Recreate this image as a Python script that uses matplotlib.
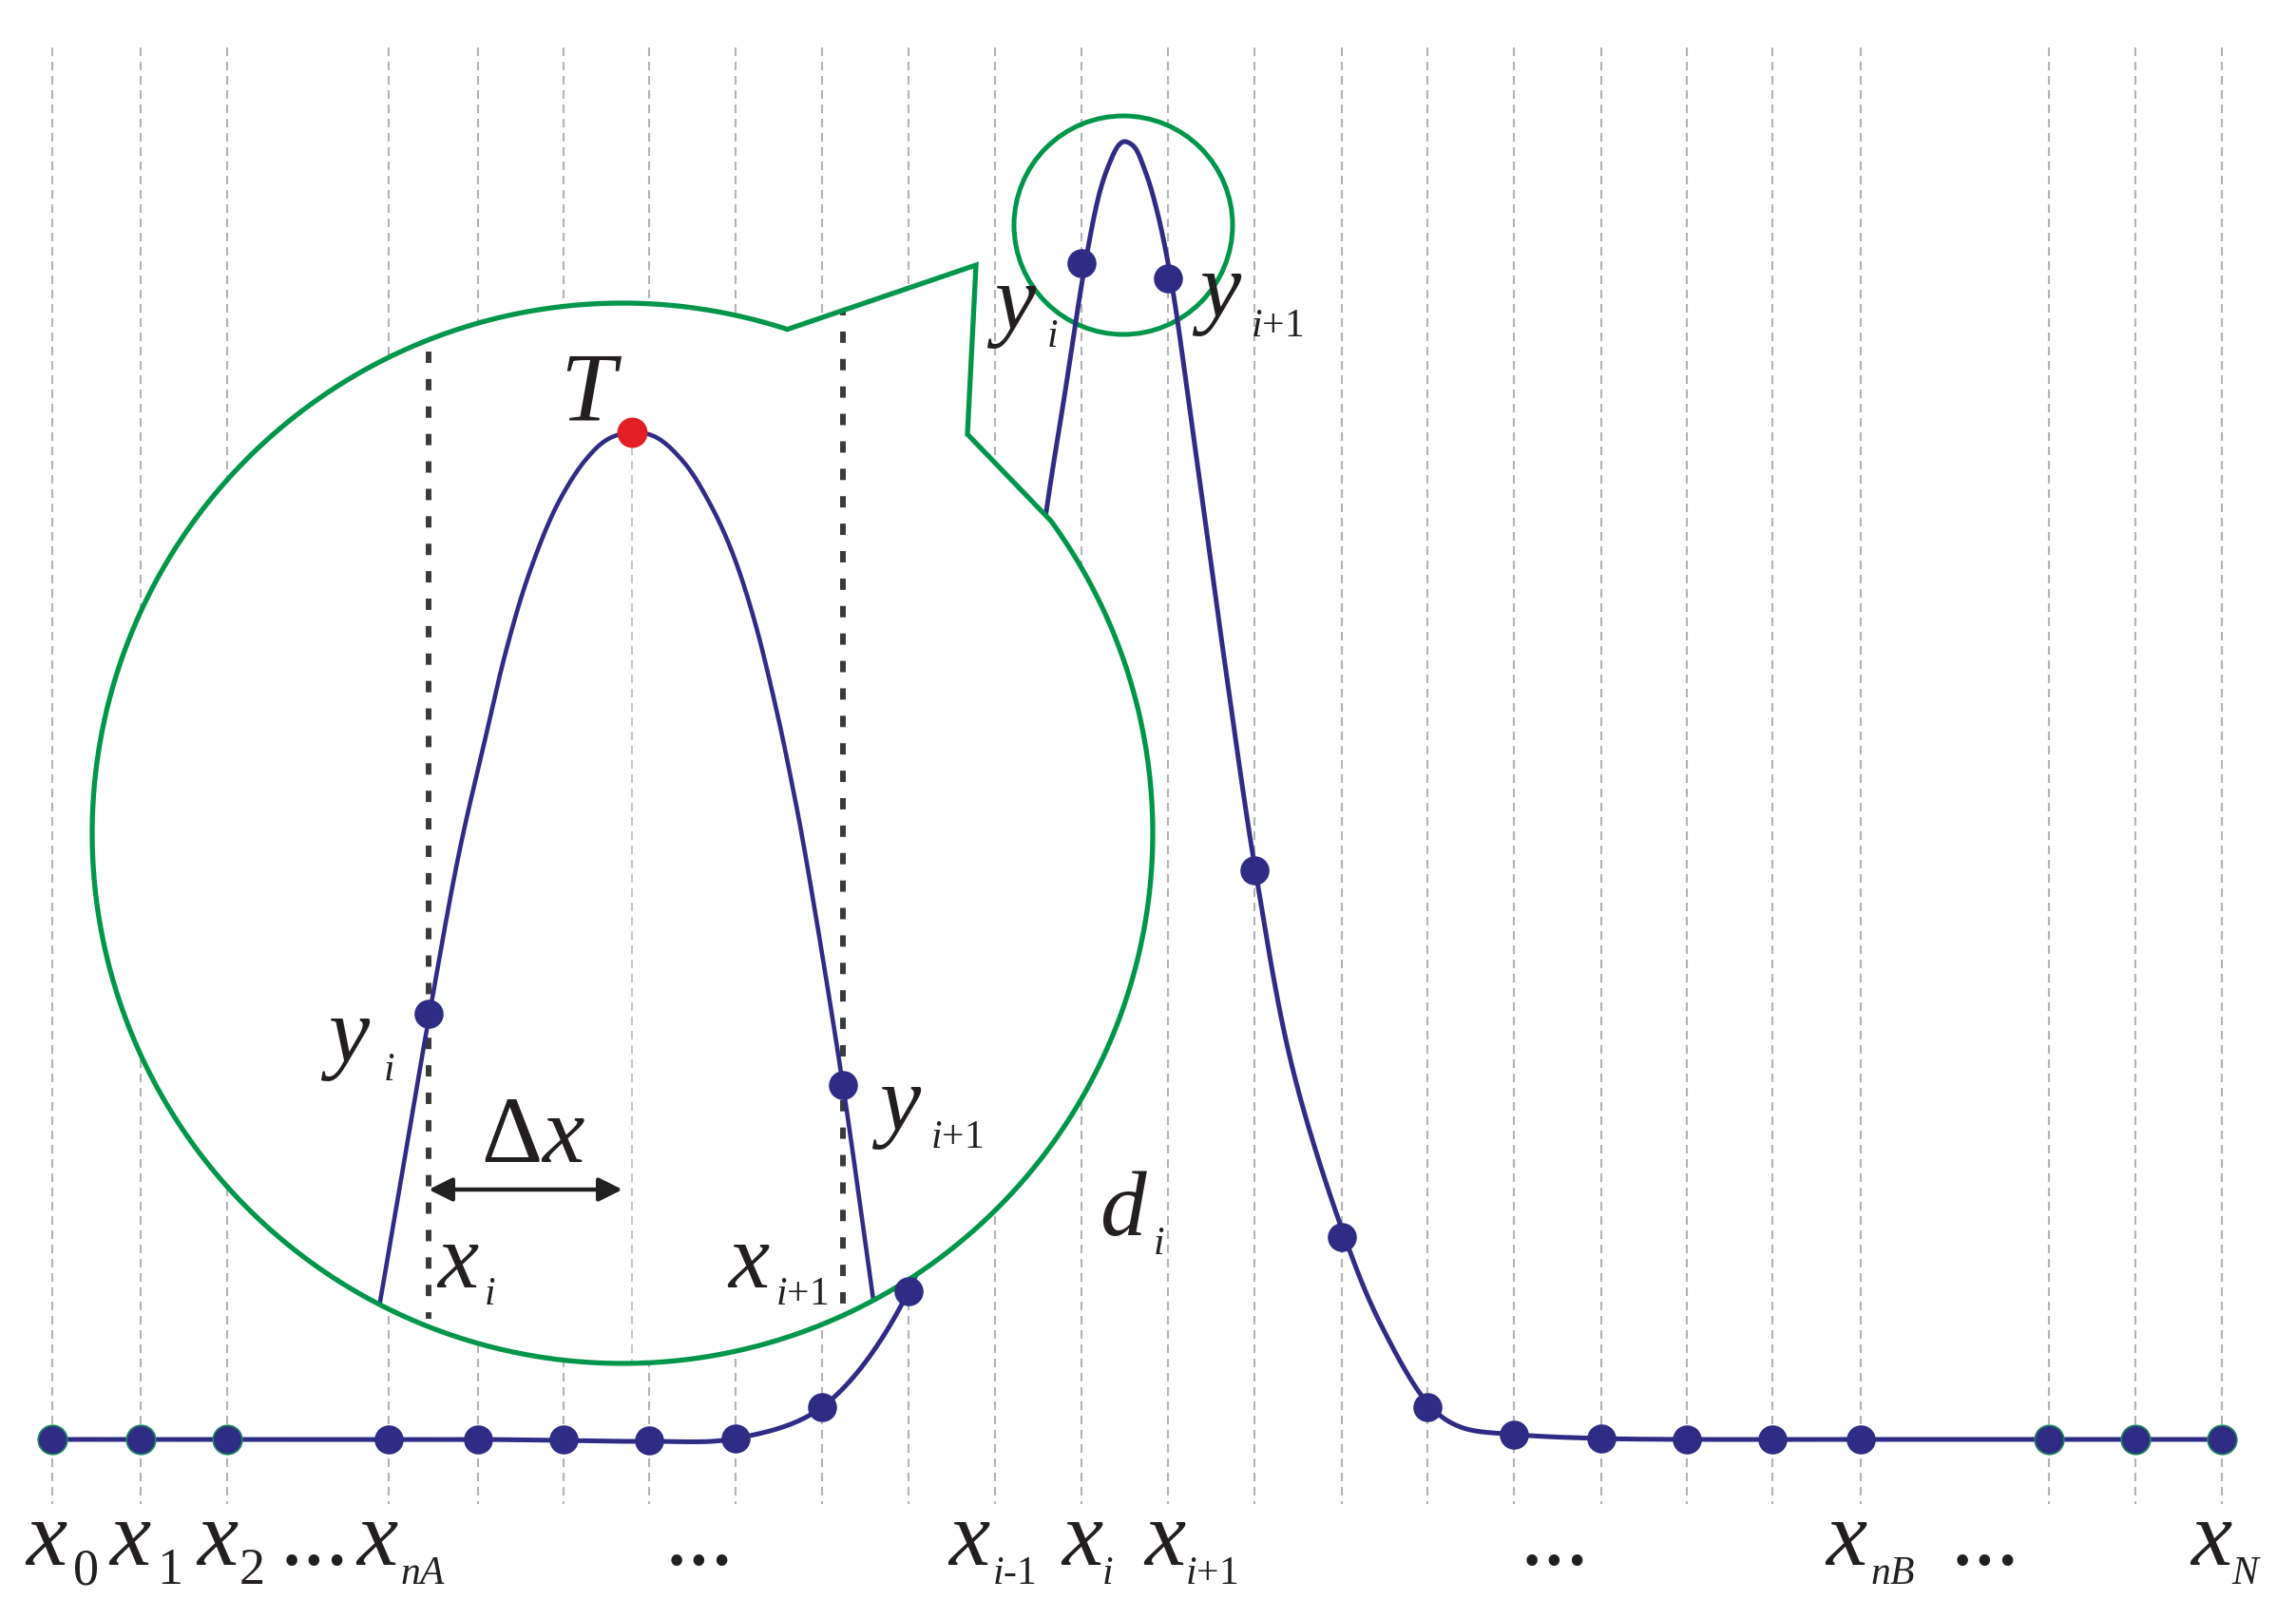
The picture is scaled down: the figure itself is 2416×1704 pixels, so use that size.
""" Sketch of a sampled peak with a magnified bubble around its top. """

import numpy as np
import matplotlib.pyplot as plt
from matplotlib.patches import Circle, Polygon

plt.rcParams["lines.scale_dashes"] = False
plt.rcParams["mathtext.fontset"] = "custom"
plt.rcParams["mathtext.it"] = "Liberation Serif:italic"
plt.rcParams["mathtext.rm"] = "Liberation Serif"

W, H = 2416, 1704

# canvas is measured in pixels of the original drawing (y grows downwards)
NODE_X = [55, 148, 239, 409, 503, 593, 683, 774, 865, 956, 1047, 1138,
          1229, 1320, 1412, 1502, 1593, 1685, 1775, 1865, 1958, 2156, 2247, 2338]
NODE_Y = [1515, 1515, 1515, 1515, 1515, 1515, 1516, 1514, 1481, 1359, None, 277,
          293, 916, 1302, 1481, 1510, 1514, 1515, 1515, 1515, 1515, 1515, 1515]
GREEN_EDGE = [0, 1, 2, 21, 22, 23]

# trace of the main curve
CURVE_X = [55, 148, 239, 409, 503, 593, 683, 774, 865, 956, 1010, 1055, 1100,
           1121, 1142, 1157, 1167, 1177, 1183, 1193, 1205, 1217, 1232,
           1256, 1290, 1321, 1360, 1415, 1453, 1505, 1537, 1597,
           1685, 1775, 1865, 1958, 2156, 2247, 2338]
CURVE_Y = [1515, 1515, 1515, 1515, 1515, 1516, 1517, 1514, 1481, 1359, 1170, 900, 545,
           411, 277, 203, 173, 153, 149, 154, 180, 220, 293,
           460, 706, 916, 1124, 1302, 1394, 1480, 1502, 1510,
           1514, 1515, 1515, 1515, 1515, 1515, 1515]

# trace of the magnified peak inside the bubble
ZOOM_X = [393, 400, 452, 483, 510, 533, 557, 587, 617, 640, 665, 690, 720,
          747, 770, 793, 817, 833, 847, 887, 920, 924]
ZOOM_Y = [1410, 1370, 1067, 898, 780, 683, 603, 530, 483, 462, 455, 460, 487,
          530, 580, 650, 747, 823, 897, 1142, 1375, 1400]
ZOOM_NODES_X = [451, 887]
ZOOM_NODES_Y = [1067, 1142]
PEAK_X, PEAK_Y = 665, 455

# bubble geometry
BUB_C = (655, 877)
BUB_R = 558
TAIL = [(828, 348), (1027, 279), (1018, 457), (1105, 549)]
LOUPE_C = (1182, 237)
LOUPE_R = 115

# labels under the axis: main letter left edge, subscript text, subscript left edge
BOT_MAIN_X = [27, 115, 207, 375, 998, 1117, 1204, 1921, 2305]
BOT_SUB = ["0", "1", "2", "$nA$", "$i$-1", "$i$", "$i$+1", "$nB$", "$N$"]
BOT_SUB_X = [77, 165, 252, 421, 1044, 1159, 1247, 1968, 2348]
BOT_DOTS_X = [295, 700, 1600, 2053]

BLUE = "#2f2c86"
GREEN = "#00964a"
RED = "#e31e24"
INK = "#231f20"
SERIF = "Liberation Serif"


def centripetal(xs, ys, n=24):
    pts = np.column_stack([xs, ys]).astype(float)
    p = np.vstack([2 * pts[0] - pts[1], pts, 2 * pts[-1] - pts[-2]])
    out = []
    for i in range(1, len(p) - 2):
        p0, p1, p2, p3 = p[i - 1], p[i], p[i + 1], p[i + 2]
        t0 = 0.0
        t1 = t0 + np.linalg.norm(p1 - p0) ** 0.5
        t2 = t1 + np.linalg.norm(p2 - p1) ** 0.5
        t3 = t2 + np.linalg.norm(p3 - p2) ** 0.5
        t = np.linspace(t1, t2, n, endpoint=False)[:, None]
        a1 = (t1 - t) / (t1 - t0) * p0 + (t - t0) / (t1 - t0) * p1
        a2 = (t2 - t) / (t2 - t1) * p1 + (t - t1) / (t2 - t1) * p2
        a3 = (t3 - t) / (t3 - t2) * p2 + (t - t2) / (t3 - t2) * p3
        b1 = (t2 - t) / (t2 - t0) * a1 + (t - t0) / (t2 - t0) * a2
        b2 = (t3 - t) / (t3 - t1) * a2 + (t - t1) / (t3 - t1) * a3
        out.append((t2 - t) / (t2 - t1) * b1 + (t - t1) / (t2 - t1) * b2)
    out.append(pts[-1:])
    out = np.vstack(out)
    return out[:, 0], out[:, 1]


def sub_label(ax, x, y, main, sub, xs, size=70, sub_size=30, drop=20):
    ax.text(x, y, main, family=SERIF, style="italic", fontsize=size,
            color=INK, ha="left", va="baseline", zorder=7)
    ax.text(xs, y + drop, sub, family=SERIF, fontsize=sub_size,
            color=INK, ha="left", va="baseline", zorder=7)


fig = plt.figure(figsize=(W / 100, H / 100), dpi=100)
ax = fig.add_axes([0, 0, 1, 1])
ax.set_xlim(0, W)
ax.set_ylim(H, 0)
ax.axis("off")

# node grid
ax.vlines(NODE_X, 50, 1583, colors="#b3b3b3", linewidth=1.5,
          linestyles=[(0, (6.5, 4.3))], zorder=1)

# main curve
cx, cy = centripetal(CURVE_X, CURVE_Y)
ax.plot(cx, cy, color=BLUE, lw=3.6, zorder=2, solid_capstyle="round")

# small loupe on the top of the peak
ax.add_patch(Circle(LOUPE_C, LOUPE_R, fill=False, ec=GREEN, lw=3.6, zorder=1.5))

# bubble
th0 = np.arctan2(TAIL[3][1] - BUB_C[1], TAIL[3][0] - BUB_C[0])
th1 = np.arctan2(TAIL[0][1] - BUB_C[1], TAIL[0][0] - BUB_C[0]) + 2 * np.pi
th = np.linspace(th0, th1, 400)
arc = np.column_stack([BUB_C[0] + BUB_R * np.cos(th), BUB_C[1] + BUB_R * np.sin(th)])
outline = np.vstack([arc, TAIL[1:3]])
bubble = Polygon(outline, closed=True, fc="white", ec="none", zorder=3)
ax.add_patch(bubble)
ax.add_patch(Polygon(outline, closed=True, fill=False, ec=GREEN, lw=3.8,
                     joinstyle="miter", zorder=4.5))

# inside the bubble
ln = ax.vlines([PEAK_X], PEAK_Y, 1440, colors="#c4c4c4", linewidth=1.4,
               linestyles=[(0, (6.5, 4.3))], zorder=3.5)
ln.set_clip_path(bubble)
ln = ax.vlines([ZOOM_NODES_X[0]], 370, 1388, colors="#3a3a3a", linewidth=4.3,
               linestyles=[(0, (8.6, 12.2))], zorder=3.6)
ln.set_clip_path(bubble)
ln = ax.vlines([ZOOM_NODES_X[1]], 320, 1375, colors="#3a3a3a", linewidth=4.3,
               linestyles=[(0, (8.6, 12.2))], zorder=3.6)
ln.set_clip_path(bubble)
zx, zy = centripetal(ZOOM_X, ZOOM_Y)
zl, = ax.plot(zx, zy, color=BLUE, lw=3.3, zorder=4)
zl.set_clip_path(bubble)

ax.annotate("", xy=(655, 1252), xytext=(451, 1252),
            arrowprops=dict(arrowstyle="<|-|>,head_length=0.5,head_width=0.25",
                            mutation_scale=30, lw=3.2, color="#222222",
                            shrinkA=0, shrinkB=0), zorder=5)

# markers
mx = [NODE_X[i] for i in range(len(NODE_X)) if NODE_Y[i] is not None]
my = [NODE_Y[i] for i in range(len(NODE_X)) if NODE_Y[i] is not None]
ax.plot(mx, my, "o", ms=22, color=BLUE, mec=BLUE, mew=0, zorder=6)
ax.plot([NODE_X[i] for i in GREEN_EDGE], [NODE_Y[i] for i in GREEN_EDGE], "o",
        ms=22, color=BLUE, mec="#1f8a5a", mew=1.2, zorder=6.1)
ax.plot(ZOOM_NODES_X, ZOOM_NODES_Y, "o", ms=22, color=BLUE, mew=0, zorder=6)
ax.plot([PEAK_X], [PEAK_Y], "o", ms=23, color=RED, mew=0, zorder=6)

# axis labels
for i in range(len(BOT_MAIN_X)):
    ssize = 39 if i < 3 else 30
    sub_label(ax, BOT_MAIN_X[i], 1647, "x", BOT_SUB[i], BOT_SUB_X[i],
              sub_size=ssize)
for x in BOT_DOTS_X:
    ax.text(x, 1647, "...", family=SERIF, fontsize=70, color=INK,
            ha="left", va="baseline", zorder=7)

# labels in the picture
sub_label(ax, 1046, 346, "y", "$i$", 1101, drop=19)
sub_label(ax, 1262, 333, "y", "$i$+1", 1316, drop=21)
sub_label(ax, 345, 1117, "y", "$i$", 403, drop=20)
sub_label(ax, 925, 1189, "y", "$i$+1", 979, drop=19)
sub_label(ax, 460, 1355, "x", "$i$", 509, drop=18)
sub_label(ax, 766, 1355, "x", "$i$+1", 816, drop=18)
sub_label(ax, 1157, 1300, "d", "$i$", 1213, drop=20)
ax.text(589, 442, "T", family=SERIF, style="italic", fontsize=75, color=INK,
        ha="left", va="baseline", zorder=7)
ax.text(506, 1223, "\u0394$x$", family=SERIF, fontsize=72, color=INK,
        ha="left", va="baseline", zorder=7)

fig.savefig("out.png", dpi=100, facecolor="white")
